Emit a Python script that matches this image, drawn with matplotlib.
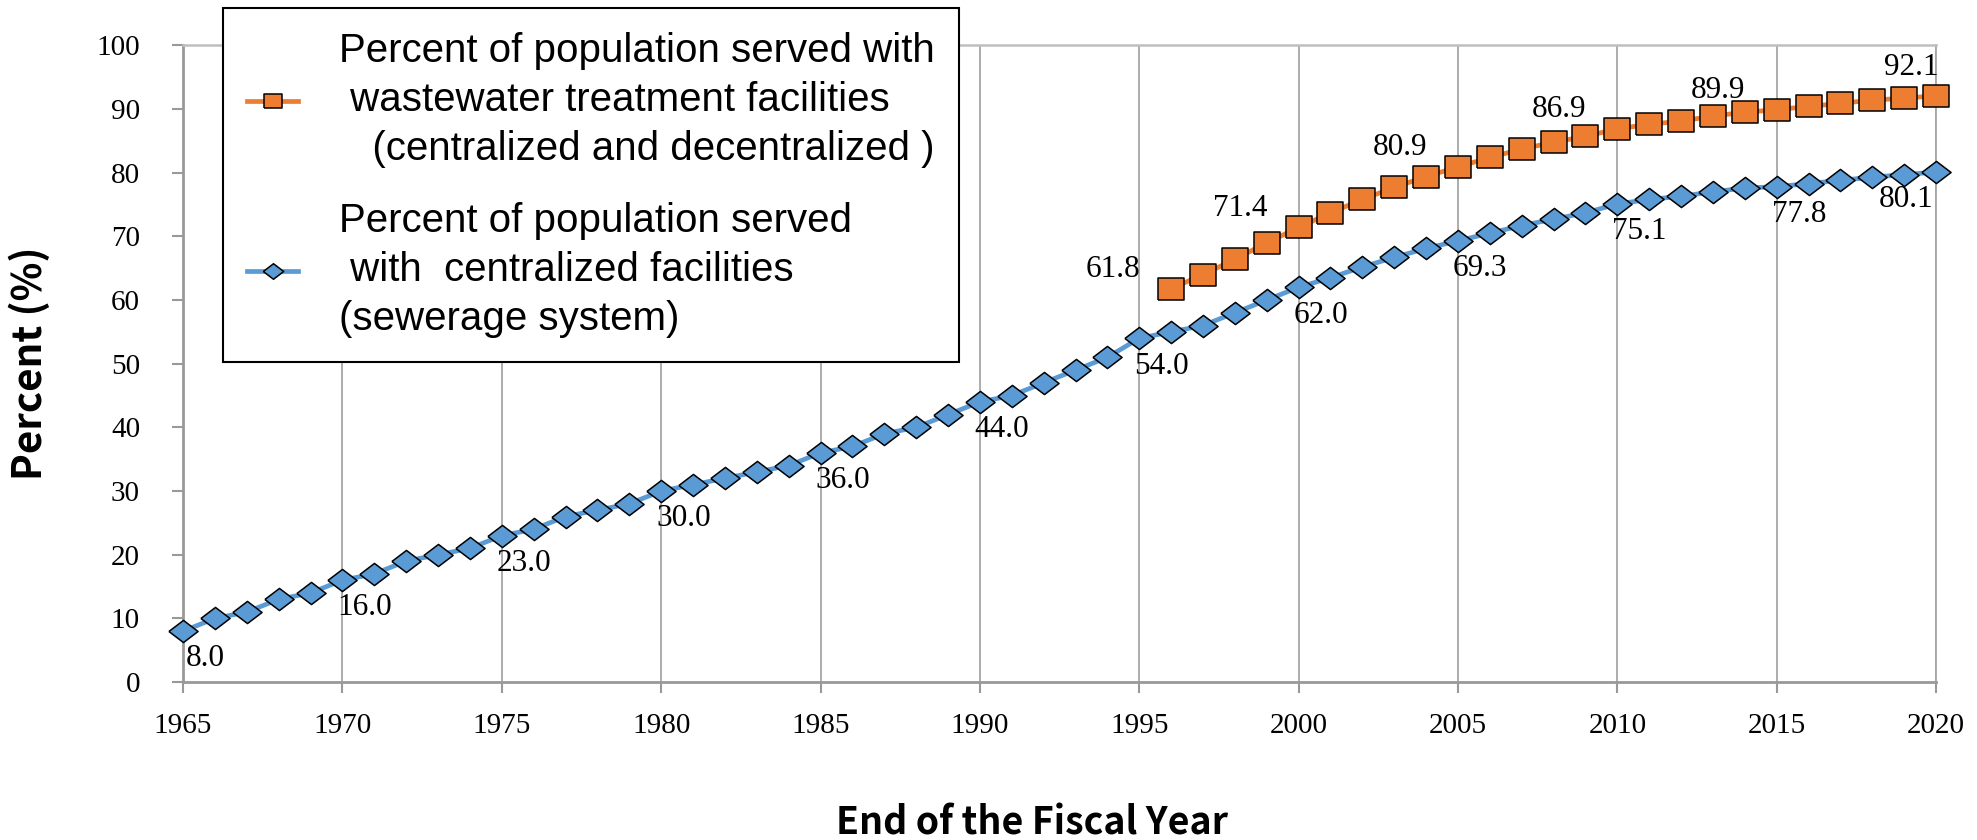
"""
Percent of population served with wastewater treatment facilities
and with centralized facilities (sewerage system), by fiscal year.
"""
import matplotlib
matplotlib.use('Agg')
from matplotlib import pyplot as plt
from matplotlib.path import Path

years_sewer = list(range(1965, 2021))
sewer_pct = [8.0, 10.0, 11.0, 13.0, 14.0, 16.0, 17.0, 19.0, 20.0, 21.0,
             23.0, 24.0, 26.0, 27.0, 28.0, 30.0, 31.0, 32.0, 33.0, 34.0,
             36.0, 37.0, 39.0, 40.0, 42.0, 44.0, 45.0, 47.0, 49.0, 51.0,
             54.0, 55.0, 56.0, 58.0, 60.0, 62.0, 63.5, 65.2, 66.7, 68.1,
             69.3, 70.5, 71.7, 72.7, 73.7, 75.1, 75.8, 76.3, 77.0, 77.6,
             77.8, 78.3, 78.8, 79.3, 79.7, 80.1]

years_wwt = list(range(1996, 2021))
wwt_pct = [61.8, 64.0, 66.4, 69.0, 71.4, 73.7, 75.8, 77.7, 79.4, 80.9,
           82.4, 83.7, 84.8, 85.7, 86.9, 87.6, 88.1, 88.9, 89.5, 89.9,
           90.4, 90.9, 91.4, 91.7, 92.1]

sewer_label_years = [1965, 1970, 1975, 1980, 1985, 1990, 1995, 2000, 2005, 2010, 2015, 2020]
wwt_label_years = [1996, 2000, 2005, 2010, 2015, 2020]

wwt_name = ("Percent of population served with\n"
            " wastewater treatment facilities\n"
            "   (centralized and decentralized )")
sewer_name = ("Percent of population served\n"
              " with  centralized facilities\n"
              "(sewerage system)")

ORANGE = "#ED7D31"
BLUE = "#5B9BD5"
GRID = "#A6A6A6"

diamond = Path([(-1, 0), (0, -0.76), (1, 0), (0, 0.76), (-1, 0)])
square = Path([(-1, -0.8), (1, -0.8), (1, 0.8), (-1, 0.8), (-1, -0.8)])


def plot_chart():
    fig = plt.figure(figsize=(19.77, 8.4), dpi=100)
    ax = fig.add_axes([0.0926, 0.188, 0.8867, 0.758])

    ax.plot(years_sewer, sewer_pct, color=BLUE, lw=3.4, marker=diamond, ms=21,
            mfc=BLUE, mec="black", mew=1.1, clip_on=False, zorder=3,
            label=sewer_name)
    ax.plot(years_wwt, wwt_pct, color=ORANGE, lw=3.4, marker=square, ms=19,
            mfc=ORANGE, mec="black", mew=1.1, clip_on=False, zorder=4,
            label=wwt_name)

    label_font = dict(family="Liberation Serif", size=22.5)
    for yr in sewer_label_years:
        v = sewer_pct[years_sewer.index(yr)]
        if yr == years_sewer[-1]:
            ax.annotate(f"{v:.1f}", (yr, v), xytext=(-2, -20), textcoords="offset points",
                        ha="right", va="center", **label_font)
        else:
            ax.annotate(f"{v:.1f}", (yr, v), xytext=(16, -20), textcoords="offset points",
                        ha="center", va="center", **label_font)
    for yr in wwt_label_years:
        v = wwt_pct[years_wwt.index(yr)]
        if yr == years_wwt[-1]:
            ax.annotate(f"{v:.1f}", (yr, v), xytext=(2, 20), textcoords="offset points",
                        ha="right", va="center", **label_font)
        else:
            ax.annotate(f"{v:.1f}", (yr, v), xytext=(-42, 14), textcoords="offset points",
                        ha="center", va="center", **label_font)

    ax.set_xlim(1965, 2020)
    ax.set_ylim(0, 100)
    ax.set_xticks(range(1965, 2021, 5))
    ax.set_yticks(range(0, 101, 10))
    ax.grid(axis="x", color=GRID, lw=1.3)
    ax.set_axisbelow(True)

    for side in ["left", "bottom"]:
        ax.spines[side].set_color("#999999")
        ax.spines[side].set_linewidth(2)
    ax.spines["top"].set_color("#BFBFBF")
    ax.spines["top"].set_linewidth(1.8)
    ax.spines["right"].set_color(GRID)
    ax.spines["right"].set_linewidth(1.3)

    ax.tick_params(axis="both", direction="out", length=8, width=1.5, color="#999999")
    ax.tick_params(axis="x", pad=14)
    ax.tick_params(axis="y", pad=23)
    for t in ax.get_xticklabels():
        t.set_fontfamily("Liberation Serif")
        t.set_fontsize(21)
    for t in ax.get_yticklabels():
        t.set_fontfamily("Liberation Serif")
        t.set_fontsize(21)

    ax.set_ylabel("Percent (%)", family="Noto Sans CJK JP", fontsize=29,
                  fontweight="bold", va="center")
    ax.yaxis.set_label_coords(-0.0873, 0.5)
    ax.set_xlabel("End of the Fiscal Year", family="Noto Sans CJK JP", fontsize=27,
                  fontweight="bold", va="center")
    ax.xaxis.set_label_coords(0.484, -0.222)

    handles, labels = ax.get_legend_handles_labels()
    leg = fig.legend(handles[::-1], labels[::-1], loc="upper left",
                     bbox_to_anchor=(0.1128, 0.9905), frameon=True, fancybox=False,
                     edgecolor="black", framealpha=1, markerscale=0.7,
                     prop={"family": "Liberation Sans", "size": 29},
                     handlelength=1.27, handletextpad=1.0, labelspacing=0.85,
                     borderpad=0.6, borderaxespad=0)
    leg.get_frame().set_linewidth(1.5)
    for t in leg.get_texts():
        t.set_linespacing(1.36)

    fig.savefig("out.png", dpi=100)


if __name__ == "__main__":
    plot_chart()
